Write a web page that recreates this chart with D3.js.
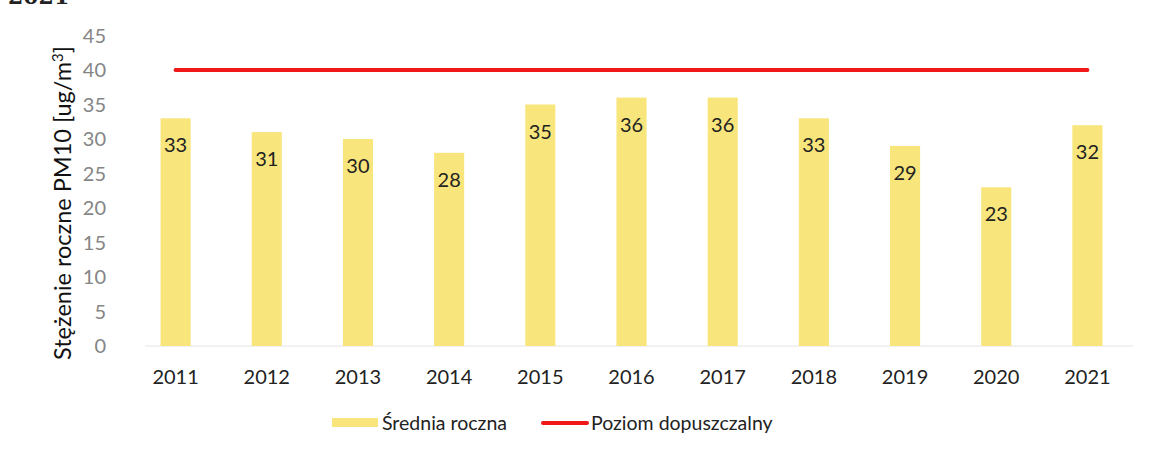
<!DOCTYPE html>
<html>
<head>
<meta charset="utf-8">
<script src="https://cdn.jsdelivr.net/npm/d3@7"></script>
<style>
  body { margin: 0; background: #fff; }
  svg { display: block; font-family: Lato, "Open Sans", sans-serif; }
</style>
</head>
<body>
<div id="chart"></div>
<script>
// data
const years = ['2011', '2012', '2013', '2014', '2015', '2016', '2017', '2018', '2019', '2020', '2021'];
const annualMean = [33, 31, 30, 28, 35, 36, 36, 33, 29, 23, 32];
const limitValue = [40, 40, 40, 40, 40, 40, 40, 40, 40, 40, 40];
const yTicks = [0, 5, 10, 15, 20, 25, 30, 35, 40, 45];
const legendLabels = ['Średnia roczna', 'Poziom dopuszczalny'];

const width = 1150, height = 458;
const svg = d3.select('#chart').append('svg')
  .attr('width', width)
  .attr('height', height);

const x = d3.scaleBand().domain(years).range([130, 1133]).paddingInner(0.67).paddingOuter(0.335);
const y = d3.scaleLinear().domain([0, 45]).range([346, 35.5]);

// heading cut off at the top edge, as in the scan
svg.append('text')
  .attr('x', 8).attr('y', 4)
  .attr('font-family', 'DejaVu Serif, serif')
  .attr('font-weight', 'bold')
  .attr('font-size', 22)
  .attr('fill', '#222')
  .text('2021');

// baseline
svg.append('line')
  .attr('x1', 145).attr('x2', 1133)
  .attr('y1', y(0)).attr('y2', y(0))
  .attr('stroke', '#e4e4e4').attr('stroke-width', 1);

// y tick labels
svg.append('g')
  .selectAll('text')
  .data(yTicks)
  .join('text')
  .attr('x', 106)
  .attr('y', d => y(d))
  .attr('dy', '0.35em')
  .attr('text-anchor', 'end')
  .attr('font-size', 20)
  .attr('fill', '#858585')
  .text(d => d);

// y axis title
svg.append('text')
  .attr('transform', 'translate(71,203) rotate(-90)')
  .attr('text-anchor', 'middle')
  .attr('font-size', 23.5)
  .attr('fill', '#111')
  .html('Stężenie roczne PM10 [ug/m<tspan dy="-8" font-size="15">3</tspan><tspan dy="8">]</tspan>');

// bars
svg.append('g')
  .selectAll('rect')
  .data(annualMean)
  .join('rect')
  .attr('x', (d, i) => x(years[i]))
  .attr('y', d => y(d))
  .attr('width', x.bandwidth())
  .attr('height', d => y(0) - y(d))
  .attr('fill', '#f8e57c');

// bar labels
svg.append('g')
  .selectAll('text')
  .data(annualMean)
  .join('text')
  .attr('x', (d, i) => x(years[i]) + x.bandwidth() / 2)
  .attr('y', d => y(d) + 27)
  .attr('dy', '0.35em')
  .attr('text-anchor', 'middle')
  .attr('font-size', 20)
  .attr('fill', '#222')
  .text(d => d);

// limit line
const line = d3.line()
  .x((d, i) => x(years[i]) + x.bandwidth() / 2)
  .y(d => y(d));
svg.append('path')
  .datum(limitValue)
  .attr('d', line)
  .attr('fill', 'none')
  .attr('stroke', '#f01818')
  .attr('stroke-width', 4)
  .attr('stroke-linecap', 'round');

// x tick labels
svg.append('g')
  .selectAll('text')
  .data(years)
  .join('text')
  .attr('x', d => x(d) + x.bandwidth() / 2)
  .attr('y', 377)
  .attr('dy', '0.35em')
  .attr('text-anchor', 'middle')
  .attr('font-size', 20)
  .attr('fill', '#222')
  .text(d => d);

// legend
const legend = svg.append('g');
legend.append('rect')
  .attr('x', 332).attr('y', 418)
  .attr('width', 46).attr('height', 9)
  .attr('fill', '#f8e57c');
legend.append('text')
  .attr('x', 382).attr('y', 423)
  .attr('dy', '0.35em')
  .attr('font-size', 19.5)
  .attr('fill', '#222')
  .text(legendLabels[0]);
legend.append('line')
  .attr('x1', 543).attr('x2', 587)
  .attr('y1', 423).attr('y2', 423)
  .attr('stroke', '#f01818')
  .attr('stroke-width', 4)
  .attr('stroke-linecap', 'round');
legend.append('text')
  .attr('x', 591).attr('y', 423)
  .attr('dy', '0.35em')
  .attr('font-size', 19.5)
  .attr('fill', '#222')
  .text(legendLabels[1]);
</script>
</body>
</html>
